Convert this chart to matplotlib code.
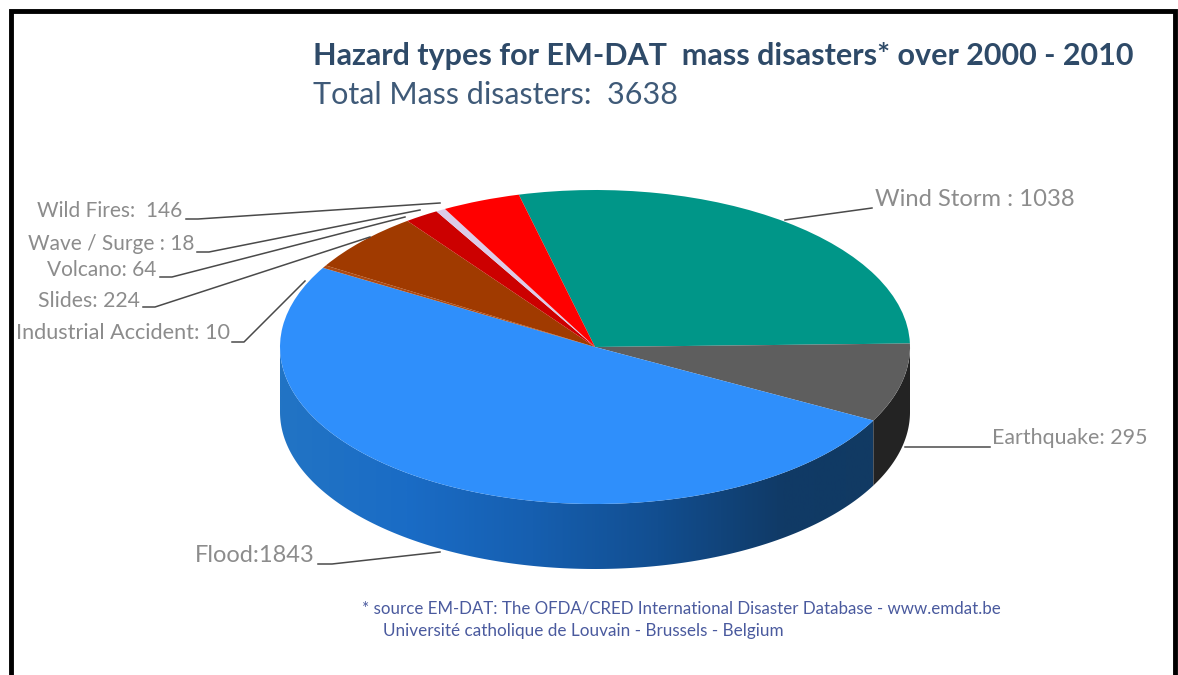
import numpy as np
import matplotlib
matplotlib.use("Agg")
import matplotlib.pyplot as plt
from matplotlib.patches import Polygon
from matplotlib.colors import LinearSegmentedColormap

hazards = ["Wind Storm", "Earthquake", "Flood", "Industrial Accident",
           "Slides", "Volcano", "Wave / Surge", "Wild Fires"]
counts = [1038, 295, 1843, 10, 224, 64, 18, 146]
colors = ["#009688", "#5E5E5E", "#2F8FFB", "#AC4A14",
          "#A03A00", "#CC0000", "#DCCBE8", "#FF0000"]
label_text = ["Wind Storm : 1038", "Earthquake: 295", "Flood:1843",
              "Industrial Accident: 10", "Slides: 224", "Volcano: 64",
              "Wave / Surge : 18", "Wild Fires:  146"]

W, H = 1178, 675
CX, CY, RX, RY, DEPTH = 595, 347, 315, 157, 65
START = 104

fig = plt.figure(figsize=(W / 100, H / 100), dpi=100, facecolor="white")
plt.rcParams["font.family"] = ["Lato", "DejaVu Sans"]

# pie axes: unit circle squashed into an ellipse by the limits
ax = fig.add_axes([0, 0, 1, 1])
ax.pie(counts, colors=colors, startangle=START, counterclock=False, radius=1,
       wedgeprops={"linewidth": 0}, normalize=True)
for w in ax.patches:
    w.set_zorder(3)

depth = DEPTH / RY
bounds = START - np.cumsum([0] + counts) / sum(counts) * 360


def wall(a0, a1):
    # outline of the disc side between two angles
    ang = np.radians(np.linspace(a0, a1, 200))
    x, y = np.cos(ang), np.sin(ang)
    return np.vstack([np.column_stack([x, y]),
                      np.column_stack([x[::-1], y[::-1] - depth])])


# flood side with a left to right gradient, earthquake side stays dark
blues = LinearSegmentedColormap.from_list(
    "wall", ["#2274C4", "#1A6CC6", "#165FB0", "#124E90", "#103A66", "#123A62"])
grad = ax.imshow(np.linspace(0, 1, 512)[None, :], cmap=blues, aspect="auto",
                 extent=(-1, 1, -1 - depth, 1), zorder=2)
grad.set_clip_path(Polygon(wall(bounds[2], -180), transform=ax.transData))
ax.add_patch(Polygon(wall(0, bounds[2]), facecolor="#232323", edgecolor="none", zorder=2))

ax.set_aspect("auto")
ax.set_xlim(-CX / RX, (W - CX) / RX)
ax.set_ylim((CY - H) / RY, CY / RY)

# overlay in pixel coordinates for frame, leaders and text
ov = fig.add_axes([0, 0, 1, 1], facecolor="none")
ov.set_xlim(0, W)
ov.set_ylim(H, 0)
ov.axis("off")

# frame, open at the bottom
ov.plot([10.5, 10.5, 1175, 1175], [H, 10.5, 10.5, H], color="black", lw=3.5,
        solid_joinstyle="miter")

leader_x = [[785, 872], [905, 990], [318, 332, 440], [232, 244, 305],
            [143, 155, 370], [160, 172, 405], [197, 209, 420], [186, 198, 440]]
leader_y = [[220, 208], [447, 447], [564, 564, 552], [342, 342, 281],
            [307, 307, 237], [277, 277, 217], [252, 252, 210], [219, 219, 203]]
for lx, ly in zip(leader_x, leader_y):
    ov.plot(lx, ly, color="#4A4A4A", lw=1.1, zorder=5)

label_left = [875, 992, 195, 16, 38, 47, 28, 37]
label_mid = [200, 438, 556, 333, 301, 270, 244, 211]
label_size = [17.1, 15.4, 17, 15.6, 15.3, 15, 15, 15]
for s, lx, ly, fs in zip(label_text, label_left, label_mid, label_size):
    ov.text(lx, ly, s, fontsize=fs, color="#8C8C8C", ha="left", va="center")

ov.text(313, 56, "Hazard types for EM-DAT  mass disasters* over 2000 - 2010",
        fontsize=22, fontweight="bold", color="#2E4A68", ha="left", va="center")
ov.text(313, 95, "Total Mass disasters:  3638", fontsize=22, color="#3F5A78",
        ha="left", va="center")
ov.text(362, 608, "* source EM-DAT: The OFDA/CRED International Disaster Database - www.emdat.be",
        fontsize=12.2, color="#4A5A9E", ha="left", va="center")
ov.text(383, 631, "Université catholique de Louvain - Brussels - Belgium",
        fontsize=12.3, color="#4A5A9E", ha="left", va="center")

fig.savefig("out.png", dpi=100, facecolor="white")
